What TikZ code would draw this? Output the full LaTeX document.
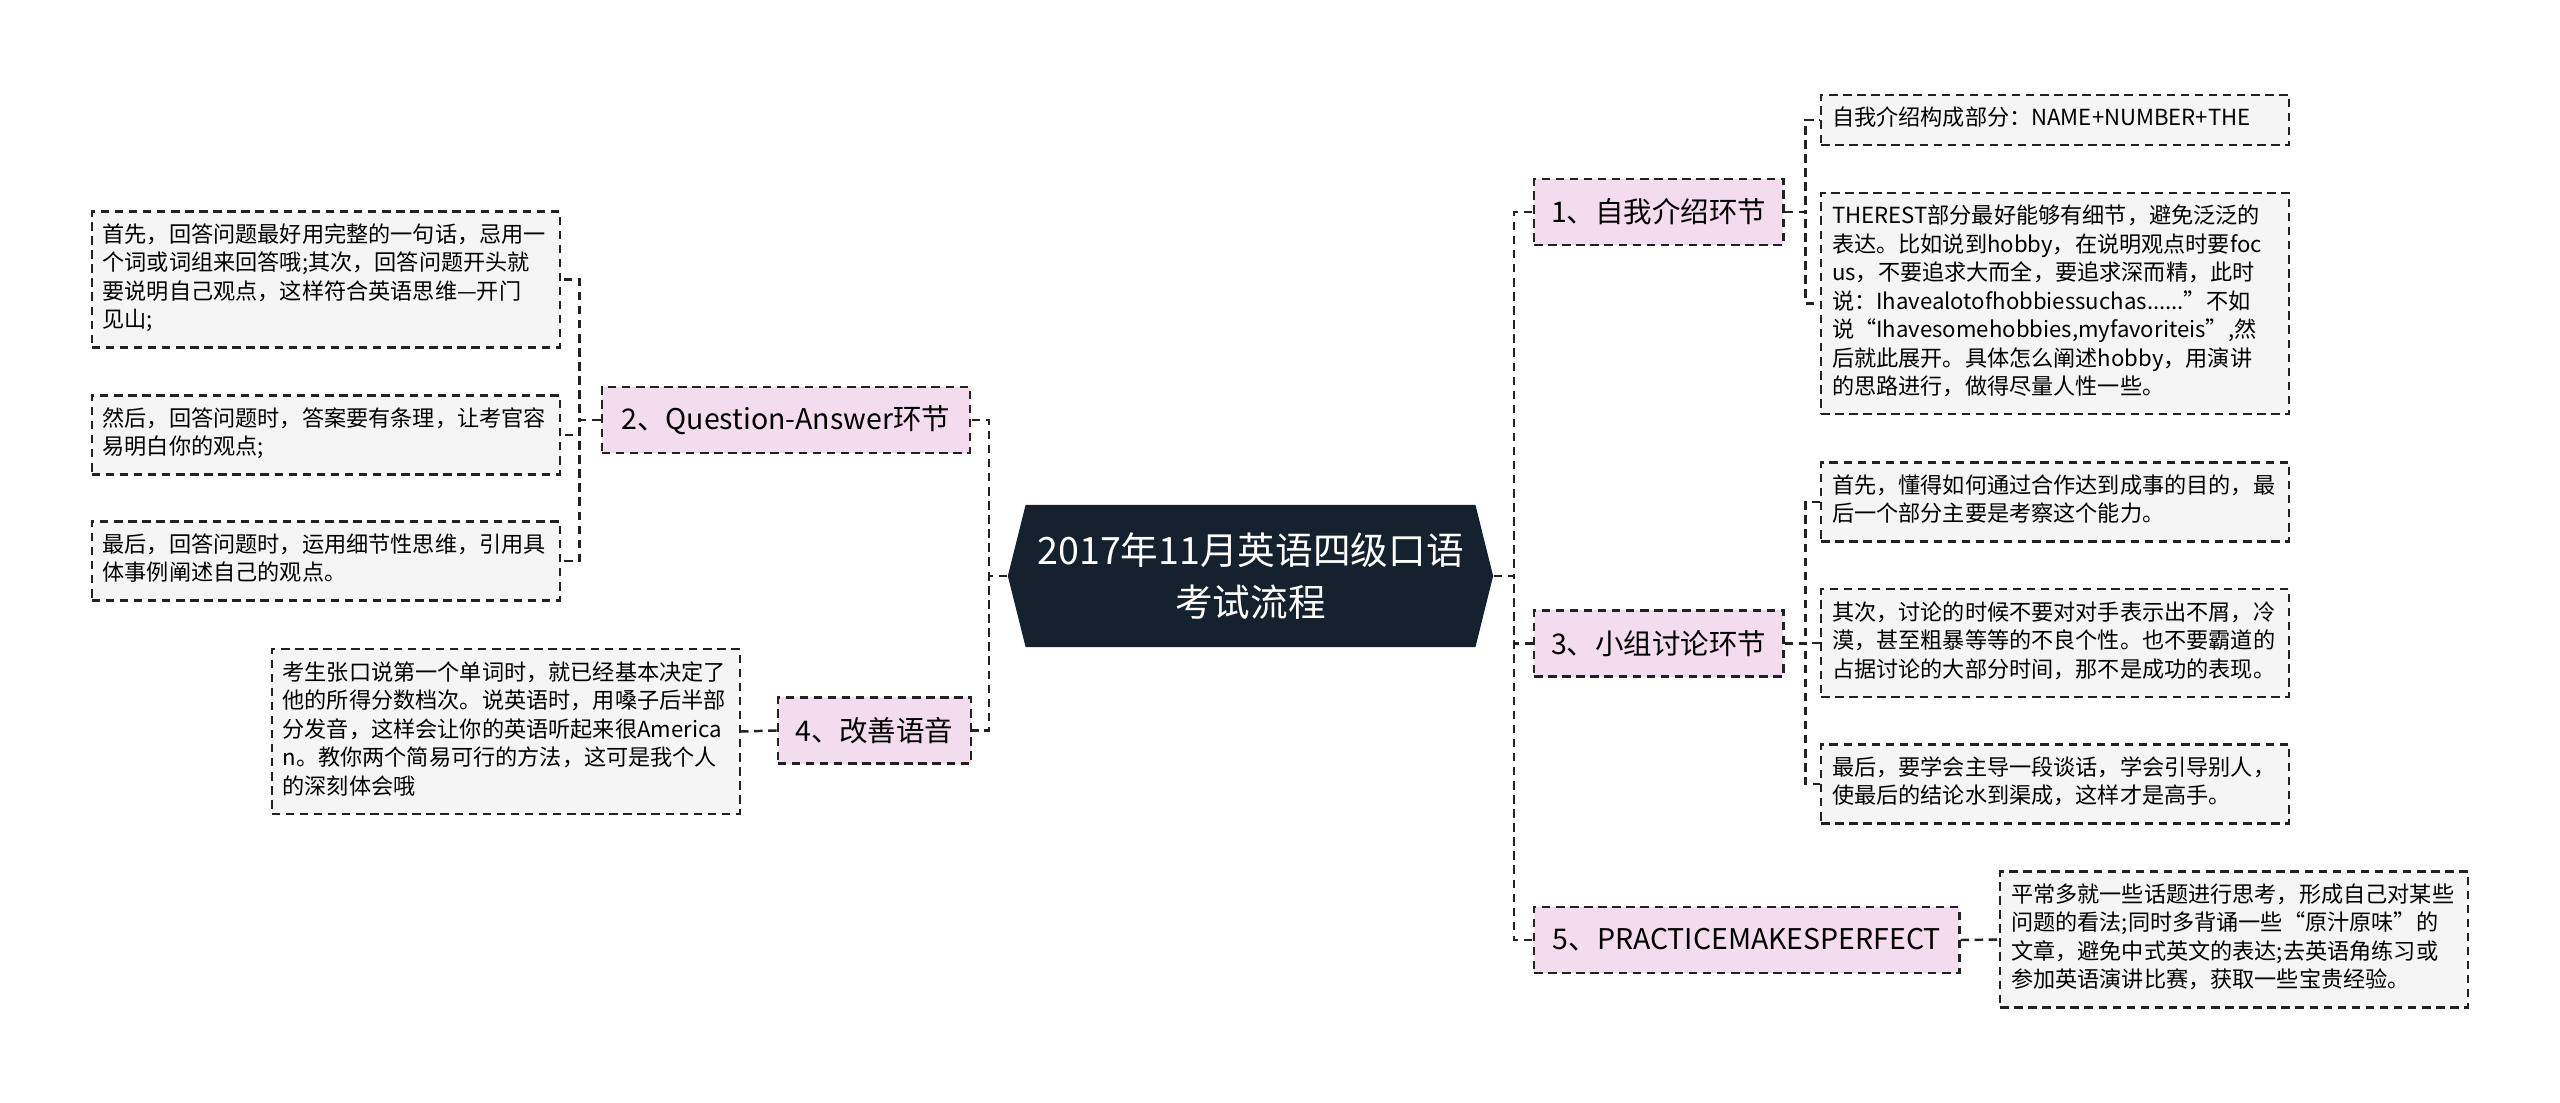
\documentclass[tikz,border=0pt]{standalone}
\usepackage{fontspec}
\setmainfont{Noto Sans CJK SC}
\usetikzlibrary{shapes.symbols}
\definecolor{navy}{HTML}{15212F}
\definecolor{topicpink}{HTML}{F4DCEF}
\definecolor{leafgray}{HTML}{F5F5F5}
\definecolor{edgegray}{HTML}{222222}
\tikzset{
  rootnode/.style={signal, signal to=east and west, signal pointer angle=152,
    fill=navy, text=white, minimum width=4.85cm, minimum height=1.42cm,
    align=center, inner sep=0pt, font=\fontsize{10.7}{14.8}\selectfont},
  topic/.style={draw=edgegray, dash pattern=on 2.4pt off 1.6pt, line width=0.65pt,
    fill=topicpink, minimum height=0.66cm, inner xsep=0.17cm,
    font=\fontsize{8.1}{9}\selectfont},
  leaf/.style={draw=edgegray, dash pattern=on 2.4pt off 1.6pt, line width=0.6pt,
    fill=leafgray, text width=4.46cm, inner xsep=0.11cm, inner ysep=0.11cm,
    align=left, font=\fontsize{6.3}{8.1}\selectfont,
    execute at begin node=\strut, execute at end node=\strut},
  link/.style={draw=edgegray, dash pattern=on 2.4pt off 1.6pt, line width=0.7pt},
}

\begin{document}
\begin{tikzpicture}[x=0.01cm, y=-0.01cm]
\useasboundingbox (0,0) rectangle (2560,1103);
\node[rootnode] (root) at (1250.5,576) {2017年11月英语四级口语\\考试流程};

% right side
\node[topic, anchor=west, minimum width=2.46cm] (selfintro) at (1533,212) {1、自我介绍环节};
\node[topic, anchor=west, minimum width=2.46cm] (discuss) at (1533,643.5) {3、小组讨论环节};
\node[topic, anchor=west, minimum width=4.25cm] (practice) at (1533,940) {5、PRACTICEMAKESPERFECT};

\node[leaf, anchor=west] (introa) at (1820,120) {自我介绍构成部分：NAME+NUMBER+THE};
\node[leaf, anchor=west] (introb) at (1820,303.5) {THEREST部分最好能够有细节，避免泛泛的\\
  表达。比如说到hobby，在说明观点时要foc\\
  us，不要追求大而全，要追求深而精，此时\\
  说：Ihavealotofhobbiessuchas......”不如\\
  说“Ihavesomehobbies,myfavoriteis”,然\\
  后就此展开。具体怎么阐述hobby，用演讲\\
  的思路进行，做得尽量人性一些。};
\node[leaf, anchor=west] (discussa) at (1820,502) {首先，懂得如何通过合作达到成事的目的，最\\
  后一个部分主要是考察这个能力。};
\node[leaf, anchor=west] (discussb) at (1820,643) {其次，讨论的时候不要对对手表示出不屑，冷\\
  漠，甚至粗暴等等的不良个性。也不要霸道的\\
  占据讨论的大部分时间，那不是成功的表现。};
\node[leaf, anchor=west] (discussc) at (1820,784) {最后，要学会主导一段谈话，学会引导别人，\\
  使最后的结论水到渠成，这样才是高手。};
\node[leaf, anchor=west] (practicea) at (1999,939.5) {平常多就一些话题进行思考，形成自己对某些\\
  问题的看法;同时多背诵一些“原汁原味”的\\
  文章，避免中式英文的表达;去英语角练习或\\
  参加英语演讲比赛，获取一些宝贵经验。};

% left side
\node[topic, anchor=east, minimum width=3.68cm] (qa) at (971,420) {2、Question-Answer环节};
\node[topic, anchor=east, minimum width=1.93cm] (voice) at (972,730.5) {4、改善语音};

\node[leaf, anchor=east] (qaa) at (561,279.5) {首先，回答问题最好用完整的一句话，忌用一\\
  个词或词组来回答哦;其次，回答问题开头就\\
  要说明自己观点，这样符合英语思维—开门\\
  见山;};
\node[leaf, anchor=east] (qab) at (561,435) {然后，回答问题时，答案要有条理，让考官容\\
  易明白你的观点;};
\node[leaf, anchor=east] (qac) at (561,561) {最后，回答问题时，运用细节性思维，引用具\\
  体事例阐述自己的观点。};
\node[leaf, anchor=east] (voicea) at (741,731.5) {考生张口说第一个单词时，就已经基本决定了\\
  他的所得分数档次。说英语时，用嗓子后半部\\
  分发音，这样会让你的英语听起来很America\\
  n。教你两个简易可行的方法，这可是我个人\\
  的深刻体会哦};

% connectors
\foreach \t in {selfintro,discuss,practice}
  \draw[link] (root.east) -- ++(20,0) |- (\t.west);
\foreach \t in {qa,voice}
  \draw[link] (root.west) -- ++(-18,0) |- (\t.east);
\foreach \l in {introa,introb}
  \draw[link] (selfintro.east) -- ++(21,0) |- (\l.west);
\foreach \l in {discussa,discussb,discussc}
  \draw[link] (discuss.east) -- ++(21,0) |- (\l.west);
\draw[link] (practice.east) -- (practicea.west);
\foreach \l in {qaa,qab,qac}
  \draw[link] (qa.west) -- ++(-21,0) |- (\l.east);
\draw[link] (voice.west) -- (voicea.east);
\end{tikzpicture}
\end{document}
